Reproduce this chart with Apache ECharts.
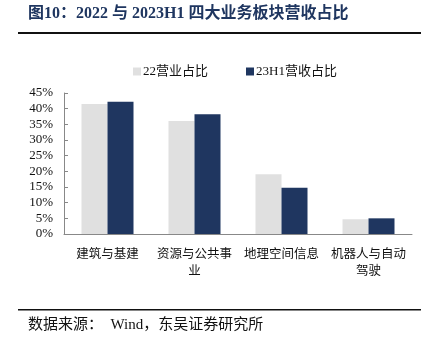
<!DOCTYPE html>
<html>
<head>
<meta charset="utf-8">
<script src="https://cdn.jsdelivr.net/npm/echarts@6/dist/echarts.min.js"></script>
<style>
  html, body { margin: 0; padding: 0; background: #fff; }
  #chart { width: 428px; height: 354px; }
</style>
</head>
<body>
<div id="chart"></div>
<script>
// 数据
var categories = ["建筑与基建", "资源与公共事业", "地理空间信息", "机器人与自动驾驶"];
var share22 = [41.5, 36.1, 19.1, 4.7];
var share23H1 = [42.2, 38.2, 14.8, 5.0];
var seriesNames = ["22营业占比", "23H1营收占比"];

var serif = '"Liberation Serif", "Times New Roman", "Noto Sans CJK SC", serif';

var myChart = echarts.init(document.getElementById("chart"));
var option = {
  backgroundColor: "#fff",
  animation: false,
  graphic: [
    {
      type: "text", left: 28, top: 6,
      style: {
        text: "图10：2022 与 2023H1 四大业务板块营收占比",
        font: 'bold 16px ' + serif,
        fill: "#1f3660"
      }
    },
    { type: "rect", shape: { x: 18, y: 32, width: 403, height: 2 }, style: { fill: "#111" } },
    { type: "rect", shape: { x: 18, y: 309, width: 403, height: 1.5 }, style: { fill: "#111" } },
    {
      type: "text", left: 28, top: 318,
      style: {
        text: "数据来源：  Wind，东吴证券研究所",
        font: '15px ' + serif,
        fill: "#111"
      }
    }
  ],
  legend: {
    left: 128,
    top: 60,
    itemWidth: 8,
    itemHeight: 8,
    itemGap: 38,
    icon: "rect",
    textStyle: { fontFamily: serif, fontSize: 13, color: "#111", padding: [0, 0, 0, -3] },
    data: seriesNames
  },
  grid: { left: 64, right: 16, top: 93, bottom: 120 },
  xAxis: {
    type: "category",
    data: categories,
    axisLine: { lineStyle: { color: "#888" } },
    axisTick: { inside: true, length: 4, lineStyle: { color: "#888" } },
    axisLabel: {
      interval: 0,
      margin: 12,
      fontFamily: serif,
      fontSize: 12.5,
      color: "#111",
      lineHeight: 17,
      formatter: function (v) {
        return v.length > 6 ? v.slice(0, 6) + "\n" + v.slice(6) : v;
      }
    }
  },
  yAxis: {
    type: "value",
    min: 0,
    max: 45,
    interval: 5,
    splitLine: { show: false },
    axisLine: { show: true, lineStyle: { color: "#888" } },
    axisTick: { show: true, inside: true, length: 4, lineStyle: { color: "#888" } },
    axisLabel: {
      margin: 11,
      fontFamily: serif,
      fontSize: 13,
      color: "#111",
      formatter: "{value}%"
    }
  },
  series: [
    {
      name: seriesNames[0],
      type: "bar",
      barWidth: 26,
      barGap: "0%",
      itemStyle: { color: "#e0e0e0" },
      data: share22
    },
    {
      name: seriesNames[1],
      type: "bar",
      barWidth: 26,
      barGap: "0%",
      itemStyle: { color: "#1f3660" },
      data: share23H1
    }
  ]
};
myChart.setOption(option);
</script>
</body>
</html>
